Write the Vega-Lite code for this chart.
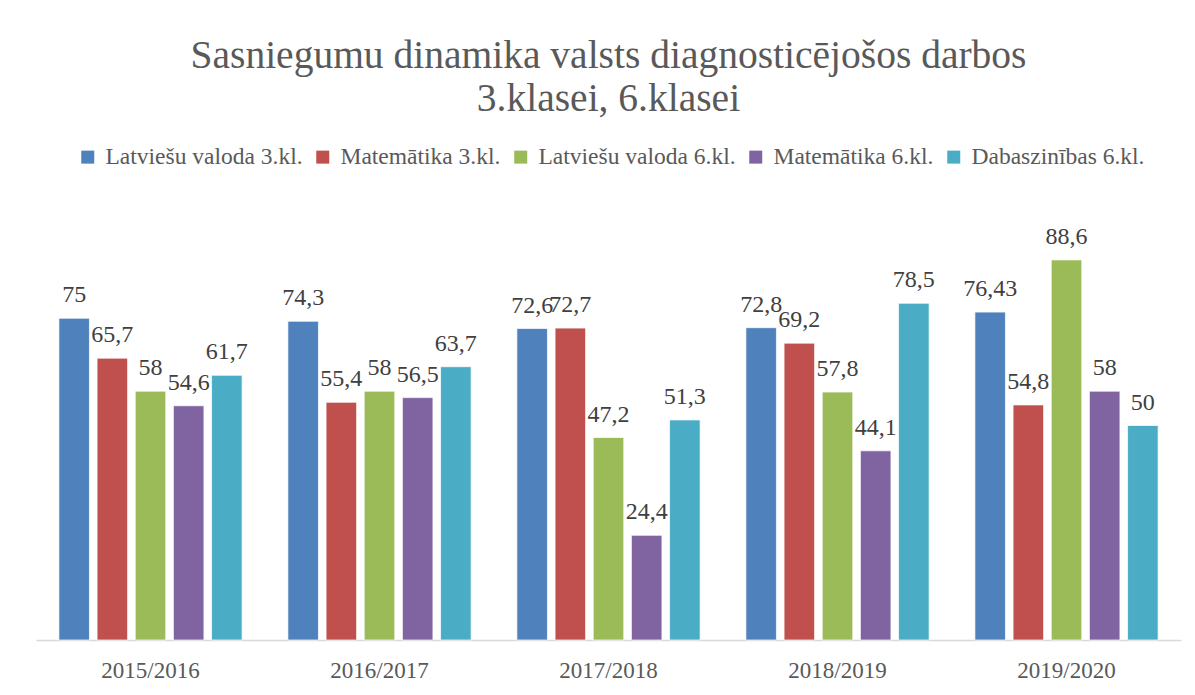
{
  "$schema": "https://vega.github.io/schema/vega-lite/v6.json",
  "width": 1145,
  "height": 429,
  "autosize": {"type": "none"},
  "padding": {"left": 36, "top": 211, "right": 14, "bottom": 55},
  "background": "white",
  "title": {
    "text": ["Sasniegumu dinamika valsts diagnosticējošos darbos", "3.klasei, 6.klasei"],
    "anchor": "middle",
    "font": "Liberation Serif",
    "fontSize": 39.5,
    "fontWeight": "normal",
    "lineHeight": 43,
    "color": "#595959",
    "offset": 26
  },
  "config": {
    "locale": {"number": {"decimal": ",", "thousands": " ", "grouping": [3], "currency": ["", " €"]}},
    "view": {"stroke": null},
    "font": "Liberation Serif"
  },
  "data": {
    "values": [
      {"gads": "2015/2016", "sērija": "Latviešu valoda 3.kl.", "vērtība": 75},
      {"gads": "2015/2016", "sērija": "Matemātika 3.kl.", "vērtība": 65.7},
      {"gads": "2015/2016", "sērija": "Latviešu valoda 6.kl.", "vērtība": 58},
      {"gads": "2015/2016", "sērija": "Matemātika 6.kl.", "vērtība": 54.6},
      {"gads": "2015/2016", "sērija": "Dabaszinības 6.kl.", "vērtība": 61.7},
      {"gads": "2016/2017", "sērija": "Latviešu valoda 3.kl.", "vērtība": 74.3},
      {"gads": "2016/2017", "sērija": "Matemātika 3.kl.", "vērtība": 55.4},
      {"gads": "2016/2017", "sērija": "Latviešu valoda 6.kl.", "vērtība": 58},
      {"gads": "2016/2017", "sērija": "Matemātika 6.kl.", "vērtība": 56.5},
      {"gads": "2016/2017", "sērija": "Dabaszinības 6.kl.", "vērtība": 63.7},
      {"gads": "2017/2018", "sērija": "Latviešu valoda 3.kl.", "vērtība": 72.6},
      {"gads": "2017/2018", "sērija": "Matemātika 3.kl.", "vērtība": 72.7},
      {"gads": "2017/2018", "sērija": "Latviešu valoda 6.kl.", "vērtība": 47.2},
      {"gads": "2017/2018", "sērija": "Matemātika 6.kl.", "vērtība": 24.4},
      {"gads": "2017/2018", "sērija": "Dabaszinības 6.kl.", "vērtība": 51.3},
      {"gads": "2018/2019", "sērija": "Latviešu valoda 3.kl.", "vērtība": 72.8},
      {"gads": "2018/2019", "sērija": "Matemātika 3.kl.", "vērtība": 69.2},
      {"gads": "2018/2019", "sērija": "Latviešu valoda 6.kl.", "vērtība": 57.8},
      {"gads": "2018/2019", "sērija": "Matemātika 6.kl.", "vērtība": 44.1},
      {"gads": "2018/2019", "sērija": "Dabaszinības 6.kl.", "vērtība": 78.5},
      {"gads": "2019/2020", "sērija": "Latviešu valoda 3.kl.", "vērtība": 76.43},
      {"gads": "2019/2020", "sērija": "Matemātika 3.kl.", "vērtība": 54.8},
      {"gads": "2019/2020", "sērija": "Latviešu valoda 6.kl.", "vērtība": 88.6},
      {"gads": "2019/2020", "sērija": "Matemātika 6.kl.", "vērtība": 58},
      {"gads": "2019/2020", "sērija": "Dabaszinības 6.kl.", "vērtība": 50}
    ]
  },
  "encoding": {
    "x": {
      "field": "gads",
      "type": "nominal",
      "sort": null,
      "scale": {"paddingInner": 0.2, "paddingOuter": 0.1},
      "axis": {
        "title": null,
        "labelAngle": 0,
        "labelFont": "Liberation Serif",
        "labelFontSize": 23,
        "labelColor": "#595959",
        "labelPadding": 19,
        "ticks": false,
        "domainColor": "#d9d9d9",
        "domainWidth": 1.5
      }
    },
    "xOffset": {
      "field": "sērija",
      "type": "nominal",
      "sort": ["Latviešu valoda 3.kl.", "Matemātika 3.kl.", "Latviešu valoda 6.kl.", "Matemātika 6.kl.", "Dabaszinības 6.kl."],
      "scale": {"paddingInner": 0.2, "paddingOuter": 0}
    },
    "y": {
      "field": "vērtība",
      "type": "quantitative",
      "scale": {"domain": [0, 100], "nice": false},
      "axis": null
    }
  },
  "layer": [
    {
      "mark": {"type": "bar", "stroke": "#ffffff", "strokeWidth": 1, "strokeOpacity": 0.7},
      "encoding": {
        "color": {
          "field": "sērija",
          "type": "nominal",
          "scale": {
            "domain": ["Latviešu valoda 3.kl.", "Matemātika 3.kl.", "Latviešu valoda 6.kl.", "Matemātika 6.kl.", "Dabaszinības 6.kl."],
            "range": ["#4F81BD", "#C0504D", "#9BBB59", "#8064A2", "#4BACC6"]
          },
          "legend": {
            "title": null,
            "orient": "none",
            "legendX": 40,
            "legendY": -66,
            "direction": "horizontal",
            "symbolType": "square",
            "symbolSize": 169,
            "symbolStrokeWidth": 0,
            "labelFont": "Liberation Serif",
            "labelFontSize": 23.5,
            "labelColor": "#595959",
            "labelLimit": 400,
            "labelOffset": 6,
            "columnPadding": 8
          }
        }
      }
    },
    {
      "mark": {"type": "text", "baseline": "alphabetic", "dy": -16, "font": "Liberation Serif", "fontSize": 24, "color": "#404040"},
      "encoding": {
        "text": {"field": "vērtība", "type": "quantitative", "format": ".6~g"}
      }
    }
  ]
}
